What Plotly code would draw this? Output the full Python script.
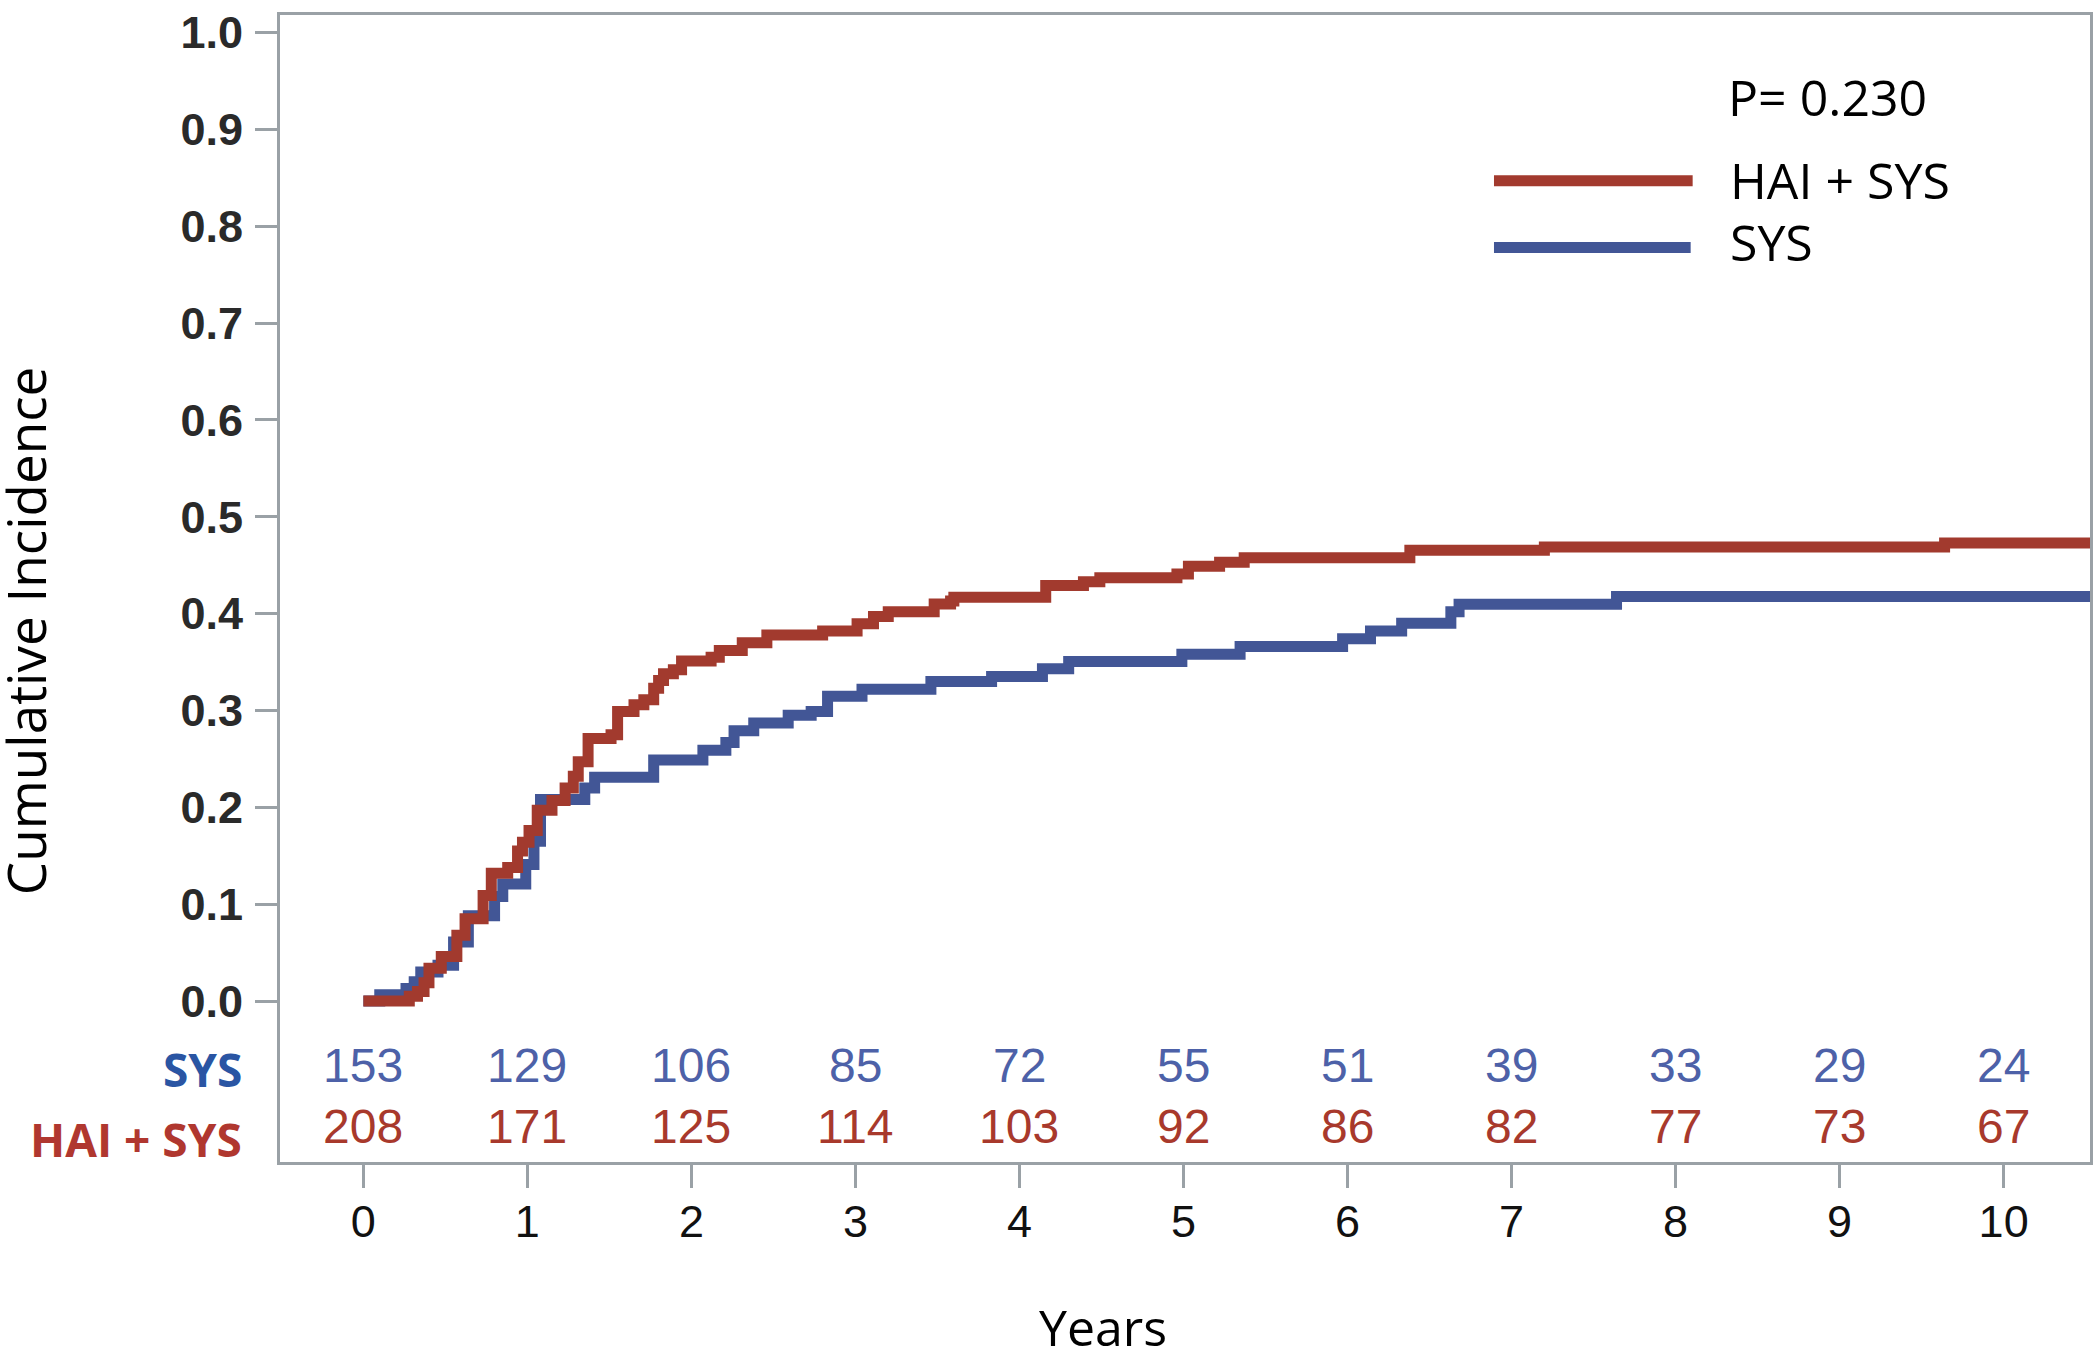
import plotly.graph_objects as go

# ---------------- data ----------------
# Cumulative incidence step curves (time in years, cumulative incidence)
hai_time = [0.00, 0.28, 0.33, 0.37, 0.40, 0.475, 0.57, 0.62, 0.73, 0.78, 0.88, 0.94, 0.97,
            1.01, 1.06, 1.15, 1.23, 1.28, 1.31, 1.37, 1.51, 1.55, 1.65, 1.71, 1.77, 1.80,
            1.83, 1.89, 1.94, 2.12, 2.17, 2.31, 2.46, 2.80, 3.01, 3.11, 3.20, 3.48, 3.58,
            3.60, 4.16, 4.39, 4.49, 4.96, 5.03, 5.22, 5.37, 6.38, 7.20, 9.64, 10.55]
hai_ci = [0.000, 0.005, 0.010, 0.019, 0.034, 0.046, 0.068, 0.085, 0.109, 0.132, 0.138, 0.155, 0.164,
          0.176, 0.197, 0.207, 0.220, 0.232, 0.247, 0.271, 0.275, 0.299, 0.306, 0.311, 0.323, 0.331,
          0.338, 0.342, 0.351, 0.355, 0.362, 0.370, 0.378, 0.382, 0.3895, 0.397, 0.402, 0.410, 0.413,
          0.417, 0.429, 0.433, 0.437, 0.441, 0.449, 0.453, 0.4576, 0.4654, 0.4688, 0.473, 0.473]

sys_time = [0.00, 0.10, 0.26, 0.31, 0.35, 0.455, 0.55, 0.64, 0.80, 0.85, 0.99, 1.04, 1.08,
            1.35, 1.41, 1.77, 2.07, 2.21, 2.26, 2.38, 2.59, 2.73, 2.83, 3.04, 3.46, 3.83,
            4.14, 4.30, 4.99, 5.345, 5.97, 6.14, 6.33, 6.63, 6.68, 7.64, 10.55]
sys_ci = [0.000, 0.0065, 0.013, 0.020, 0.030, 0.037, 0.061, 0.088, 0.108, 0.121, 0.141, 0.165, 0.208,
          0.220, 0.231, 0.249, 0.259, 0.267, 0.279, 0.287, 0.295, 0.299, 0.3147, 0.322, 0.330, 0.335,
          0.343, 0.3506, 0.358, 0.366, 0.374, 0.382, 0.390, 0.402, 0.4097, 0.4176, 0.4176]

# Number at risk table
risk_years = [0, 1, 2, 3, 4, 5, 6, 7, 8, 9, 10]
sys_at_risk = [153, 129, 106, 85, 72, 55, 51, 39, 33, 29, 24]
hai_at_risk = [208, 171, 125, 114, 103, 92, 86, 82, 77, 73, 67]

y_ticks = [0.0, 0.1, 0.2, 0.3, 0.4, 0.5, 0.6, 0.7, 0.8, 0.9, 1.0]
y_tick_text = ["0.0", "0.1", "0.2", "0.3", "0.4", "0.5", "0.6", "0.7", "0.8", "0.9", "1.0"]

p_value_text = "P= 0.230"
series_names = ["HAI + SYS", "SYS"]

# ---------------- style ----------------
RED = "#A23A2E"
BLUE = "#425696"
RED_TXT = "#A8392C"
BLUE_TXT = "#4D61A8"
RED_LBL = "#B0372F"
BLUE_LBL = "#2A55A3"
AXIS = "#9AA1A6"
W, H = 2100, 1349
ML, MR, MT, MB = 280, 7, 7, 187
PW, PH = W - ML - MR, H - MT - MB


def px(X):
    return (X - ML) / PW


def py(Y):
    return (H - MB - Y) / PH


fig = go.Figure()
fig.add_trace(go.Scatter(x=sys_time, y=sys_ci, mode="lines", line=dict(color=BLUE, width=11, shape="hv"),
                         name=series_names[1], showlegend=False))
fig.add_trace(go.Scatter(x=hai_time, y=hai_ci, mode="lines", line=dict(color=RED, width=11, shape="hv"),
                         name=series_names[0], showlegend=False))

annotations = []
num_font = "Liberation Sans, Arial, sans-serif"
SYS_ROW_Y = -0.0666
HAI_ROW_Y = -0.129
for yr, n in zip(risk_years, sys_at_risk):
    annotations.append(dict(x=yr, y=SYS_ROW_Y, xref="x", yref="y", text=str(n), showarrow=False,
                            font=dict(family=num_font, size=48, color=BLUE_TXT)))
for yr, n in zip(risk_years, hai_at_risk):
    annotations.append(dict(x=yr, y=HAI_ROW_Y, xref="x", yref="y", text=str(n), showarrow=False,
                            font=dict(family=num_font, size=48, color=RED_TXT)))

lbl_font = "Open Sans, sans-serif"
annotations.append(dict(x=px(244), y=-0.0697, xref="paper", yref="y", text="<b>SYS</b>", showarrow=False,
                        xanchor="right", font=dict(family=lbl_font, size=46, color=BLUE_LBL)))
annotations.append(dict(x=px(244), y=-0.1425, xref="paper", yref="y", text="<b>HAI + SYS</b>", showarrow=False,
                        xanchor="right", font=dict(family=lbl_font, size=46, color=RED_LBL)))

# legend block
txt_font = "Open Sans, sans-serif"
annotations.append(dict(x=px(1728), y=py(90), xref="paper", yref="paper", text=p_value_text, showarrow=False,
                        xanchor="left", yanchor="middle", font=dict(family=txt_font, size=50, color="#000")))
annotations.append(dict(x=px(1730), y=py(173), xref="paper", yref="paper", text=series_names[0], showarrow=False,
                        xanchor="left", yanchor="middle", font=dict(family=txt_font, size=50, color="#000")))
annotations.append(dict(x=px(1730), y=py(236), xref="paper", yref="paper", text=series_names[1], showarrow=False,
                        xanchor="left", yanchor="middle", font=dict(family=txt_font, size=50, color="#000")))

# axis titles
annotations.append(dict(x=px(25), y=py(627), xref="paper", yref="paper", text="Cumulative Incidence",
                        showarrow=False, textangle=-90, xanchor="center", yanchor="middle",
                        font=dict(family=txt_font, size=53, color="#000")))
annotations.append(dict(x=px(1104), y=py(1328), xref="paper", yref="paper", text="Years",
                        showarrow=False, xanchor="center", yanchor="middle",
                        font=dict(family=txt_font, size=50, color="#000")))

shapes = [
    dict(type="line", xref="paper", yref="paper", x0=px(1496), x1=px(1695), y0=py(174), y1=py(174),
         line=dict(color=RED, width=11)),
    dict(type="line", xref="paper", yref="paper", x0=px(1496), x1=px(1693), y0=py(241), y1=py(241),
         line=dict(color=BLUE, width=11)),
]

fig.update_layout(
    width=W, height=H,
    margin=dict(l=ML, r=MR, t=MT, b=MB, pad=0),
    paper_bgcolor="white", plot_bgcolor="white",
    showlegend=False,
    annotations=annotations,
    shapes=shapes,
    xaxis=dict(range=[-0.5082, 10.5265], tickvals=risk_years, ticktext=[str(v) for v in risk_years],
               showgrid=False, zeroline=False, showline=True, linecolor=AXIS, linewidth=3, mirror=True,
               ticks="outside", ticklen=23, tickwidth=3, tickcolor=AXIS, ticklabelstandoff=-5,
               tickfont=dict(family=num_font, size=45, color="#111")),
    yaxis=dict(range=[-0.16607, 1.01794], tickvals=y_ticks, ticktext=y_tick_text,
               showgrid=False, zeroline=False, showline=True, linecolor=AXIS, linewidth=3, mirror=True,
               ticks="outside", ticklen=22, tickwidth=3, tickcolor=AXIS, ticklabelstandoff=3,
               ticklabeloverflow="allow",
               tickfont=dict(family=num_font, size=45, color="#2a2a2a", weight="bold")),
)

fig.write_html("out.html", config={"displayModeBar": False},
               post_script="document.body.style.margin='0';")
